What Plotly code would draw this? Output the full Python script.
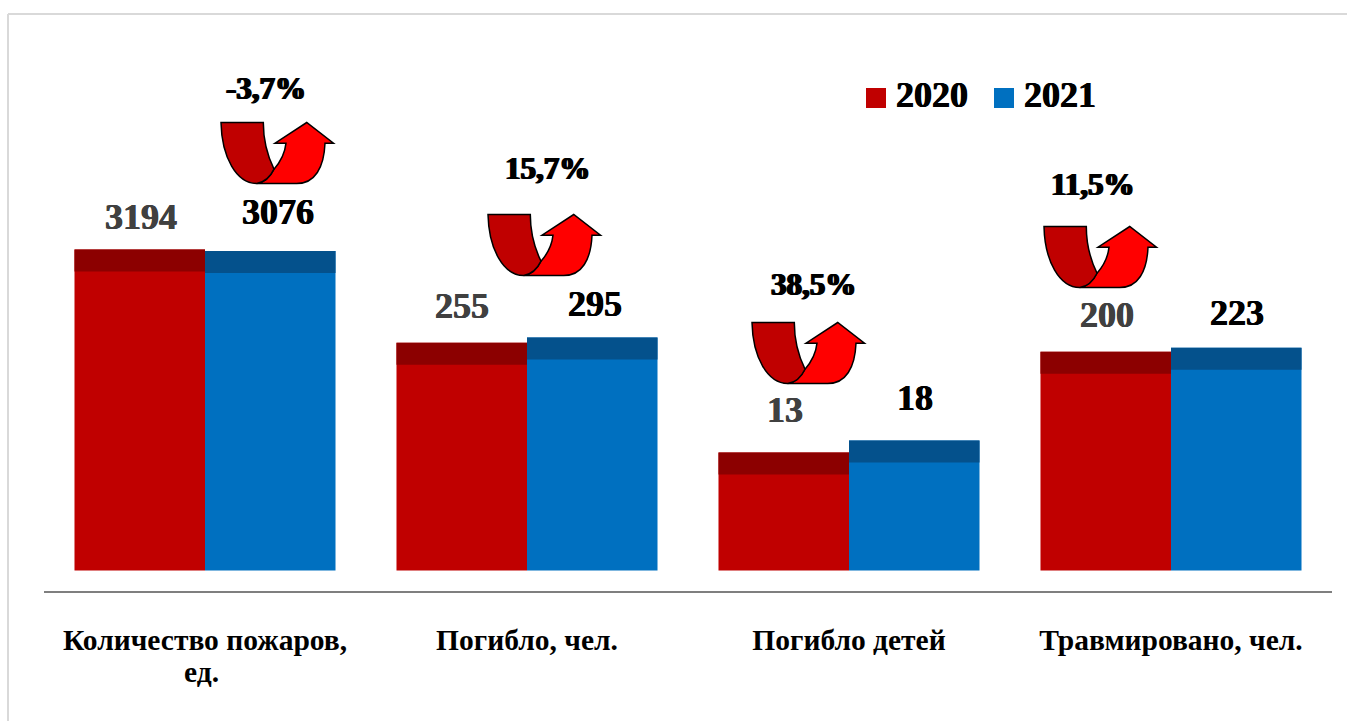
import math
import plotly.graph_objects as go

W, H = 1347, 721
categories = ["Количество пожаров,", "Погибло, чел.", "Погибло детей", "Травмировано, чел."]
category_second_line = "ед."
values_2020 = [3194, 255, 13, 200]
values_2021 = [3076, 295, 18, 223]
changes = ["-3,7%", "15,7%", "38,5%", "11,5%"]

# layout constants (pixels in the page)
PLOT_L, PLOT_R, PLOT_T, PLOT_B = 44, 1332, 20, 570.5
AXIS_Y = 592
Y_RANGE_LOW = -0.276
PX_PER_DECADE = 84.9
Y_RANGE_HIGH = Y_RANGE_LOW + (PLOT_B - PLOT_T) / PX_PER_DECADE
BAND_PX = 22
FONT = "Liberation Serif"
band = 10 ** (BAND_PX / PX_PER_DECADE)

dx_2020 = [-64.5, -65, -64, -64]
dx_2021 = [72.5, 68, 66, 66]
dy_2020 = [33, 37, 42, 37]
dy_2021 = [39, 33, 42, 35]
arrow_xy = [(221, 122.5), (488, 214.5), (752, 322.5), (1044, 226.5)]
change_xy = [(266, 89), (547, 168), (813, 284), (1093, 184)]
THICK = "0.4px 0 0 {0}, -0.4px 0 0 {0}"


def px(x):
    return x / W


def py(y):
    return 1 - y / H


def path(cmds, ox, oy):
    out = []
    for c in cmds:
        if c[0] == "Z":
            out.append("Z")
        else:
            pts = [f"{px(ox + c[i]):.5f},{py(oy + c[i + 1]):.5f}" for i in range(1, len(c), 2)]
            out.append(c[0] + " ".join(pts))
    return " ".join(out)


RED_ARROW = [("M", 35.7, 61), ("L", 75.7, 61), ("C", 94, 61, 103, 45, 104, 20.7), ("L", 112.5, 20.7),
             ("L", 85.7, 0), ("L", 54, 20.7), ("L", 65, 20.7), ("C", 64, 30, 59, 40, 53, 46.7),
             ("C", 49, 55, 42.3, 60, 35.7, 61), ("Z",)]
DARK_ARROW = [("M", 0, 0), ("L", 42.3, 0), ("C", 42.3, 18.3, 47.3, 35, 53, 46.7),
              ("C", 49, 55, 42.3, 60, 35.7, 61), ("C", 15.7, 61, 0.7, 35, 0, 0), ("Z",)]

fig = go.Figure()
for name, vals, col, dark in [("2020", values_2020, "#C00000", "#8C0000"),
                              ("2021", values_2021, "#0070C0", "#04518C")]:
    fig.add_trace(go.Bar(x=categories, y=vals, name=name, marker=dict(color=col, line_width=0),
                         offsetgroup=name, showlegend=False))
    fig.add_trace(go.Bar(x=categories, y=[v - v / band for v in vals], base=[v / band for v in vals],
                         name=name, marker=dict(color=dark, line_width=0),
                         offsetgroup=name, showlegend=False))

shapes = [
    dict(type="line", xref="paper", yref="paper", x0=px(8), x1=1, y0=py(14), y1=py(14),
         line=dict(color="#D9D9D9", width=2)),
    dict(type="line", xref="paper", yref="paper", x0=px(8), x1=px(8), y0=py(14), y1=0,
         line=dict(color="#D9D9D9", width=2)),
    dict(type="rect", xref="paper", yref="paper", x0=px(866), x1=px(886), y0=py(88), y1=py(108),
         fillcolor="#C00000", line_width=0),
    dict(type="rect", xref="paper", yref="paper", x0=px(994), x1=px(1014), y0=py(88), y1=py(108),
         fillcolor="#0070C0", line_width=0),
]
for ox, oy in arrow_xy:
    shapes.append(dict(type="path", xref="paper", yref="paper", path=path(RED_ARROW, ox, oy),
                       fillcolor="#FF0000", line=dict(color="black", width=1.5)))
    shapes.append(dict(type="path", xref="paper", yref="paper", path=path(DARK_ARROW, ox, oy),
                       fillcolor="#C00000", line=dict(color="black", width=1.5)))

annotations = []
for i, cat in enumerate(categories):
    for v, dx, dy, col in [(values_2020[i], dx_2020[i], dy_2020[i], "#404040"),
                           (values_2021[i], dx_2021[i], dy_2021[i], "#000000")]:
        annotations.append(dict(x=cat, xref="x", y=math.log10(v), yref="y", text=f"<b>{v}</b>",
                                showarrow=False, xshift=dx, yshift=dy, yanchor="middle", xanchor="center",
                                font=dict(family=FONT, size=36, color=col, shadow=THICK.format(col))))
    cx, cy = change_xy[i]
    annotations.append(dict(x=px(cx), y=py(cy), xref="paper", yref="paper", text=f"<b>{changes[i]}</b>",
                            showarrow=False, xanchor="center", yanchor="middle",
                            font=dict(family=FONT, size=31, color="black",
                                      shadow="1px 0 0 black, -1px 0 0 black")))
for label, x in [("2020", 932.5), ("2021", 1060)]:
    annotations.append(dict(x=px(x), y=py(95), xref="paper", yref="paper", text=f"<b>{label}</b>",
                            showarrow=False, xanchor="center", yanchor="middle",
                            font=dict(family=FONT, size=36, color="black", shadow=THICK.format("black"))))
annotations.append(dict(x=px(201), y=py(672), xref="paper", yref="paper",
                        text=f"<b>{category_second_line}</b>", showarrow=False,
                        xanchor="center", yanchor="middle",
                        font=dict(family=FONT, size=29.5, color="black")))

fig.update_layout(
    width=W, height=H, autosize=False, margin=dict(l=0, r=0, t=0, b=0),
    paper_bgcolor="white", plot_bgcolor="white", barmode="group", bargap=0.1894, bargroupgap=0,
    showlegend=False, shapes=shapes, annotations=annotations,
    font=dict(family=FONT),
    xaxis=dict(domain=[px(PLOT_L), px(PLOT_R)], anchor="free", position=py(AXIS_Y), type="category",
               range=[-0.5, 3.5], showline=True, linecolor="#7F7F7F", linewidth=2, showgrid=False,
               ticks="outside", ticklen=22, tickcolor="rgba(0,0,0,0)",
               tickfont=dict(family=FONT, size=29.5, color="black"),
               tickvals=categories, ticktext=[f"<b>{c}</b>" for c in categories],
               tickangle=0, fixedrange=True),
    yaxis=dict(domain=[py(PLOT_B), py(PLOT_T)], type="log", range=[Y_RANGE_LOW, Y_RANGE_HIGH],
               visible=False, showgrid=False, fixedrange=True),
)
fig.write_html("out.html", config=dict(displayModeBar=False),
               post_script="document.body.style.margin='0';document.body.style.overflow='hidden';")
